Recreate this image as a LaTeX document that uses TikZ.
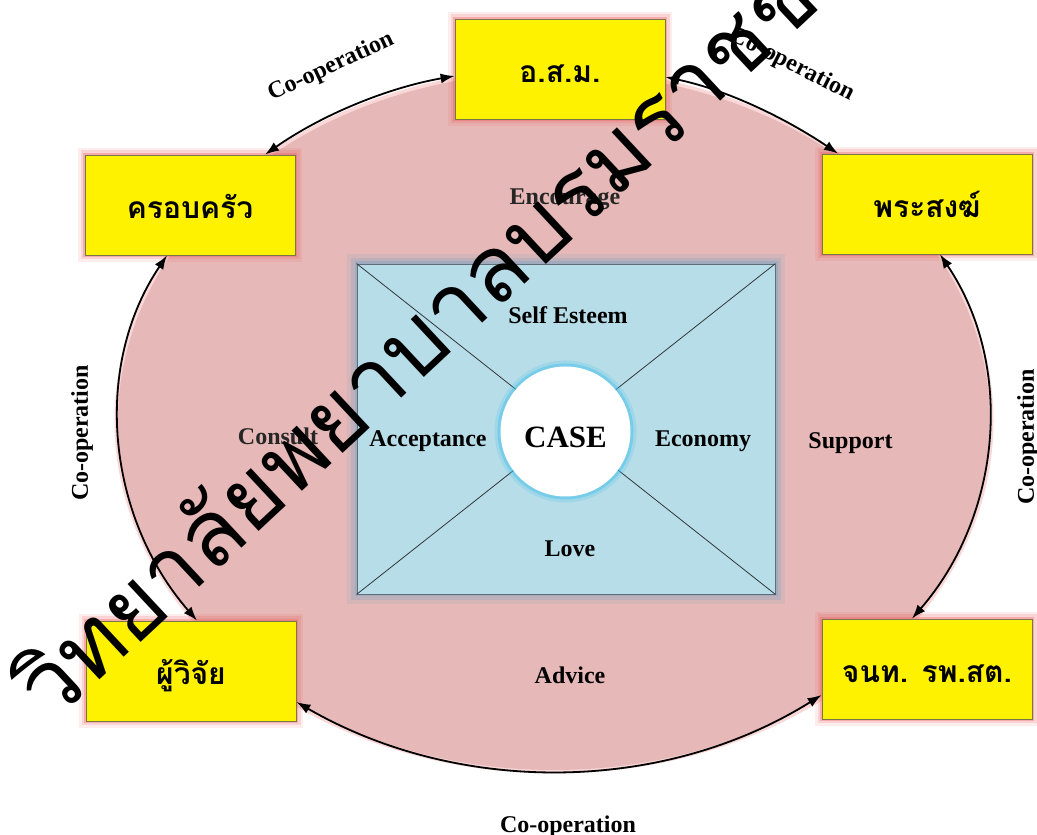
\documentclass[tikz,border=0pt]{standalone}
\usepackage{fontspec}
\setmainfont{Liberation Serif}
\newfontfamily\thaifont[Script=Thai]{Loma}
\usetikzlibrary{arrows.meta}
\definecolor{ellfill}{RGB}{230,184,183}
\definecolor{ellglow}{RGB}{235,100,100}
\definecolor{rectfill}{RGB}{183,221,232}
\definecolor{rectglow}{RGB}{120,165,195}
\definecolor{rectline}{RGB}{95,110,120}
\definecolor{circglow}{RGB}{70,195,235}
\definecolor{boxglow}{RGB}{235,80,80}
\definecolor{boxline}{RGB}{120,120,70}
\definecolor{diagline}{RGB}{50,55,60}
\begin{document}
\begin{tikzpicture}[x=1pt,y=1pt,
  lbl/.style={font=\bfseries\fontsize{24}{28}\selectfont, inner sep=0pt, anchor=base},
  coop/.style={font=\bfseries\fontsize{24}{28}\selectfont, inner sep=0pt},
  actor/.style={rectangle, draw=boxline, line width=0.8pt, fill=yellow,
    minimum width=210pt, minimum height=100pt, inner sep=0pt,
    text height=28pt, text depth=0pt,
    font=\thaifont\bfseries\fontsize{30}{36}\selectfont,
    preaction={draw=boxglow, line width=14pt, opacity=.10},
    preaction={draw=boxglow, line width=9pt, opacity=.16},
    preaction={draw=boxglow, line width=4pt, opacity=.3}},
  envbox/.style={rectangle, draw=rectline, line width=0.8pt, fill=rectfill,
    minimum width=418pt, minimum height=330pt, inner sep=0pt,
    preaction={draw=rectglow, line width=20pt, opacity=.15},
    preaction={draw=rectglow, line width=12pt, opacity=.25},
    preaction={draw=rectglow, line width=5pt, opacity=.4}},
  hub/.style={circle, fill=white, minimum size=130pt, inner sep=0pt,
    preaction={draw=circglow, line width=12pt, opacity=.2},
    preaction={draw=circglow, line width=6pt, opacity=.45}},
  diag/.style={draw=diagline, line width=0.8pt},
  conn/.style={{Latex[length=14pt,width=10pt]}-{Latex[length=14pt,width=10pt]}, line width=1.8pt, black},
  wmark/.style={font=\thaifont\fontsize{92}{100}\selectfont, inner sep=0pt}
]
\useasboundingbox (0,0) rectangle (1037,835);

% outer ellipse
\draw[ellglow, line width=7pt, opacity=.25] (554,414) ellipse[x radius=436pt, y radius=349pt];
\fill[ellfill] (554,414) ellipse[x radius=436pt, y radius=349pt];

% inner rectangle with diagonals
\node[envbox] (env) at (566,406) {};
\draw[diag] (env.north west) -- (env.south east);
\draw[diag] (env.north east) -- (env.south west);
\node[hub] (hub) at (565.5,403.5) {};
\node[lbl, font=\bfseries\fontsize{31}{36}\selectfont] (casetxt) at (565.5,387) {CASE};

% inner labels
\node[lbl] (self) at (568,511) {Self Esteem};
\node[lbl] (acc) at (428,388) {Acceptance};
\node[lbl] (eco) at (703,388) {Economy};
\node[lbl] (love) at (570,278) {Love};

% ring labels
\node[lbl, text=black!85] (enc) at (565,630) {Encourage};
\node[lbl, text=black!85] (cons) at (278,390) {Consult};
\node[lbl] (supp) at (850.5,386) {Support};
\node[lbl] (adv) at (570,151) {Advice};

% actor boxes
\node[actor] (kr) at (190,630) {ครอบครัว};
\node[actor] (os) at (560,766) {อ.ส.ม.};
\node[actor] (ps) at (927,631) {พระสงฆ์};
\node[actor] (pw) at (191,164) {ผู้วิจัย};
\node[actor] (jn) at (927,166) {จนท. รพ.สต.};

% connectors
\draw[conn] ([xshift=75pt]kr.north) to[out=35,in=190,looseness=.86] ([yshift=-7pt]os.west);
\draw[conn] ([yshift=-8pt]os.east) to[out=-12,in=146,looseness=.86] ([xshift=-89pt]ps.north);
\draw[conn] ([xshift=13pt]ps.south) to[out=-56,in=49,looseness=.95] ([xshift=-15pt]jn.north);
\draw[conn] ([yshift=-26pt]jn.west) to[out=-148,in=-30,looseness=.91] ([yshift=-31pt]pw.east);
\draw[conn] ([xshift=6pt]pw.north) to[out=131,in=236,looseness=.95] ([xshift=-23pt]kr.south);

% co-operation labels
\node[coop, rotate=25] (c1) at (331,768) {Co-operation};
\node[coop, rotate=-27] (c2) at (792,770) {Co-operation};
\node[coop, rotate=90] (c3) at (82,402) {Co-operation};
\node[coop, rotate=90] (c4) at (1028,398) {Co-operation};
\node[lbl] (c5) at (568,2) {Co-operation};

% watermark
\node[wmark, rotate=43, anchor=base west] (wm) at (52,110) {วิทยาลัยพยาบาลบรมราชชนนี};
\end{tikzpicture}
\end{document}
